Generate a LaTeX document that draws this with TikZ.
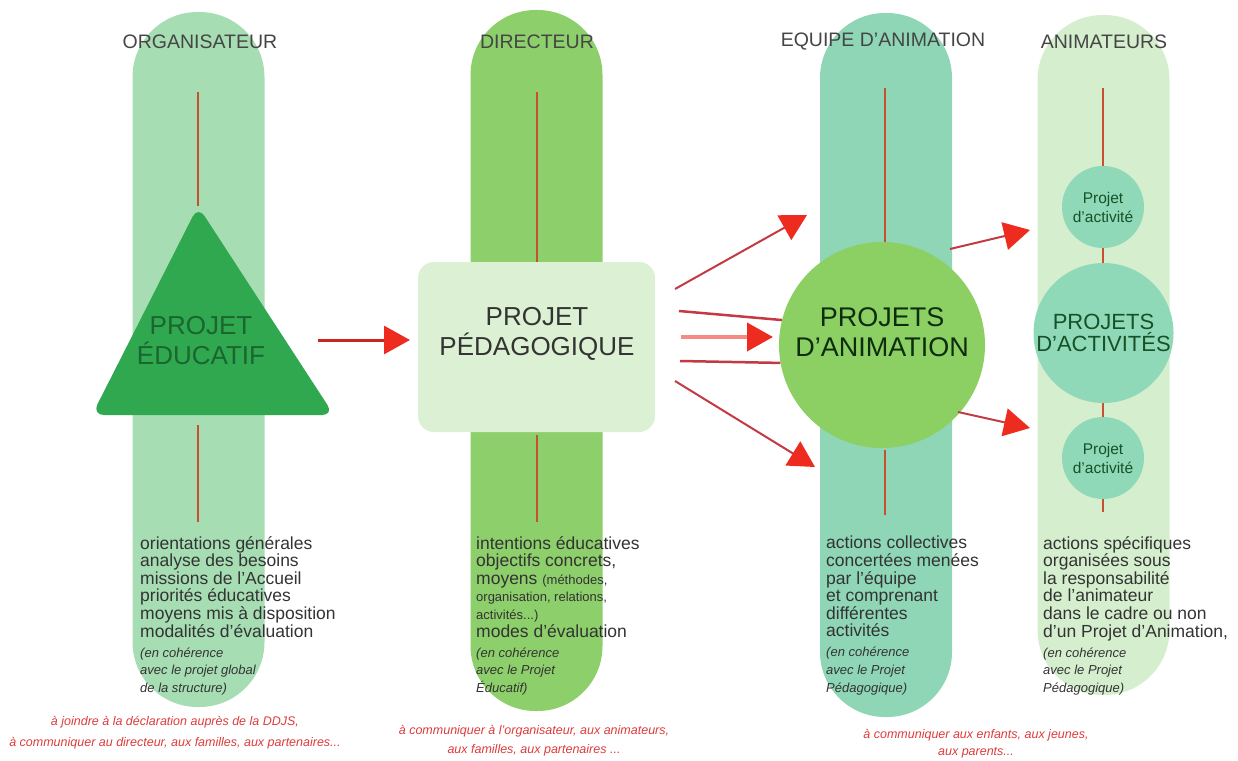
\documentclass[tikz,border=0pt]{standalone}
\usepackage{fontspec}
\setmainfont{Liberation Sans}
\usetikzlibrary{arrows.meta}
\usetikzlibrary{calc}

\definecolor{orgfill}{HTML}{A6DDB3}
\definecolor{dirfill}{HTML}{8DCF6B}
\definecolor{eqfill}{HTML}{8ED6B6}
\definecolor{animfill}{HTML}{D4EECE}
\definecolor{edugreen}{HTML}{2FA84F}
\definecolor{edutext}{HTML}{1B6530}
\definecolor{boxfill}{HTML}{DCF1D4}
\definecolor{animgreen}{HTML}{8CCF63}
\definecolor{actfill}{HTML}{8FD9B9}
\definecolor{linered}{HTML}{C9502F}
\definecolor{arrowred}{HTML}{EE2B1F}
\definecolor{arrowline}{HTML}{C23A42}
\definecolor{headgray}{HTML}{454545}
\definecolor{bodygray}{HTML}{333333}
\definecolor{notered}{HTML}{DD3B3B}

\newcommand{\notefont}{\fontsize{13}{17.6}\selectfont\itshape}
\newcommand{\smallfont}{\fontsize{13}{17.6}\selectfont}

\begin{document}
\begin{tikzpicture}[x=1pt,y=-1pt,
  pill/.style={rounded corners=65pt,minimum width=132pt,inner sep=0pt},
  heading/.style={font=\fontsize{19.5}{22}\selectfont,text=headgray},
  bodytext/.style={anchor=north west,align=left,inner sep=0pt,font=\fontsize{17.5}{17.6}\selectfont,text=bodygray},
  notetext/.style={align=center,inner sep=0pt,font=\fontsize{12.5}{19}\selectfont\itshape,text=notered},
  bigtext/.style={align=center,inner sep=0pt,font=\fontsize{26}{30}\selectfont},
  actcircle/.style={circle,fill=actfill,inner sep=0pt,align=center,text=edutext!80!black},
  redline/.style={draw=linered,line width=1.8pt},
  redarrow/.style={draw=arrowline,line width=2pt,-{Triangle[length=26pt,width=28pt,color=arrowred,fill=arrowred]}}]
\useasboundingbox (0,0) rectangle (1238,760);

% columns
\node[pill,fill=orgfill,minimum height=695pt] (orgcol) at (198.5,359.5) {};
\node[pill,fill=dirfill,minimum height=701pt] (dircol) at (536.5,360.5) {};
\node[pill,fill=eqfill,minimum height=704pt] (eqcol) at (886,365) {};
\node[pill,fill=animfill,minimum height=680pt] (animcol) at (1103.5,355) {};

\node[heading] (orghead) at (200,42) {ORGANISATEUR};
\node[heading] (dirhead) at (537,42) {DIRECTEUR};
\node[heading] (eqhead) at (883,42) {EQUIPE D'ANIMATION};
\node[heading] (animhead) at (1104,42) {ANIMATEURS};

% red lines in the columns
\coordinate (eduapex) at (198,206);
\coordinate (orgtop) at (198,92);
\coordinate (orglow1) at (198,425);
\coordinate (orglow2) at (198,522);
\coordinate (dirtop) at (537,92);
\coordinate (dirlow1) at (537,435);
\coordinate (dirlow2) at (537,522);
\coordinate (eqtop) at (885,88);
\coordinate (eqmid) at (885,245);
\coordinate (eqlow1) at (885,450);
\coordinate (eqlow2) at (885,515);
\coordinate (animtop) at (1103,88);
\coordinate (animlow) at (1103,512);

\draw[redline] (orgtop) -- (eduapex);
\draw[redline] (orglow1) -- (orglow2);
\draw[redline] (dirtop) -- (dirlow1 |- 0,262);
\draw[redline] (dirlow1) -- (dirlow2);
\draw[redline] (eqtop) -- (eqmid);
\draw[redline] (eqlow1) -- (eqlow2);
\draw[redline] (animtop) -- (1103,170);
\draw[redline] (1103,245) -- (1103,266);
\draw[redline] (1103,400) -- (1103,420);
\draw[redline] (1103,496) -- (animlow);

% projet educatif
\fill[edugreen,rounded corners=12pt] (eduapex) -- (334,415) -- (92,415) -- cycle;
\node[bigtext,text=edutext] (edu) at (201,341) {PROJET\\ÉDUCATIF};

% projet pedagogique
\node[fill=boxfill,rounded corners=16pt,minimum width=237pt,minimum height=170pt] (pedag) at (536.5,347) {};
\node[bigtext,text=bodygray] (pedagtext) at (537,334) {PROJET\\PÉDAGOGIQUE};

% projets d'animation
\node[circle,fill=animgreen,minimum size=206pt,inner sep=0pt] (anim) at (882,345) {};
\node[bigtext,font=\fontsize{27}{30}\selectfont,text=bodygray!70!green!40!black] (animtext) at (882,332) {PROJETS\\D'ANIMATION};

% projets d'activites
\node[actcircle,minimum size=82pt,font=\fontsize{15.5}{19}\selectfont] (act1) at (1103,207) {Projet\\d'activité};
\node[actcircle,minimum size=140pt,font=\fontsize{22}{22}\selectfont] (acts) at (1103.5,333) {PROJETS\\D'ACTIVITÉS};
\node[actcircle,minimum size=82pt,font=\fontsize{15.5}{19}\selectfont] (act2) at (1103,458) {Projet\\d'activité};

% arrows
\coordinate (edustart) at (318,340);
\coordinate (pedagend) at (410,340);
\coordinate (fanA) at (675,289);
\coordinate (fanB) at (679,311);
\coordinate (fanC) at (681,337);
\coordinate (fanD) at (680,361);
\coordinate (fanE) at (675,381);
\coordinate (tipA) at (807,215);
\coordinate (tipC) at (773,337);
\coordinate (tipE) at (815,467);
\coordinate (actstartA) at (950,249);
\coordinate (actstartB) at (958,412);
\coordinate (acttipA) at (1030,230);
\coordinate (acttipB) at (1030,428);

\draw[redarrow,line width=3pt,draw=arrowred!85!black] (edustart) -- (pedagend);
\draw[redarrow] (fanA) -- (tipA);
\draw[draw=arrowline,line width=2.5pt] (fanB) -- (anim.166);
\draw[redarrow,line width=4pt,draw=arrowred!55!white] (fanC) -- (tipC);
\draw[draw=arrowline,line width=2.5pt] (fanD) -- (anim.190);
\draw[redarrow] (fanE) -- (tipE);
\draw[redarrow] (actstartA) -- (acttipA);
\draw[redarrow] (actstartB) -- (acttipB);

% texts
\node[bodytext] (orgbody) at (140,536) {orientations générales\\
analyse des besoins\\
missions de l'Accueil\\
priorités éducatives\\
moyens mis à disposition\\
modalités d'évaluation\\[2.5pt]
{\notefont (en cohérence}\\
{\notefont avec le projet global}\\
{\notefont de la structure)}};
\node[bodytext] (dirbody) at (476,536) {intentions éducatives\\
objectifs concrets,\\
moyens {\smallfont (méthodes,}\\
{\smallfont organisation, relations,}\\
{\smallfont activités...)}\\
modes d'évaluation\\[2.5pt]
{\notefont (en cohérence}\\
{\notefont avec le Projet}\\
{\notefont Éducatif)}};
\node[bodytext] (eqbody) at (826,536) {actions collectives\\
concertées menées\\
par l'équipe\\
et comprenant\\
différentes\\
activités\\[2.5pt]
{\notefont (en cohérence}\\
{\notefont avec le Projet}\\
{\notefont Pédagogique)}};
\node[bodytext] (animbody) at (1043,536) {actions spécifiques\\
organisées sous\\
la responsabilité\\
de l'animateur\\
dans le cadre ou non\\
d'un Projet d'Animation,\\[2.5pt]
{\notefont (en cohérence}\\
{\notefont avec le Projet}\\
{\notefont Pédagogique)}};

\node[notetext,font=\fontsize{12.5}{21}\selectfont\itshape] (orgnote) at (175,733) {à joindre à la déclaration auprès de la DDJS,\\
à communiquer au directeur, aux familles, aux partenaires...};
\node[notetext] (dirnote) at (534,741) {à communiquer à l'organisateur, aux animateurs,\\
aux familles, aux partenaires ...};
\node[notetext,font=\fontsize{12.5}{17}\selectfont\itshape] (eqnote) at (976,744) {à communiquer aux enfants, aux jeunes,\\
aux parents...};
\end{tikzpicture}
\end{document}
